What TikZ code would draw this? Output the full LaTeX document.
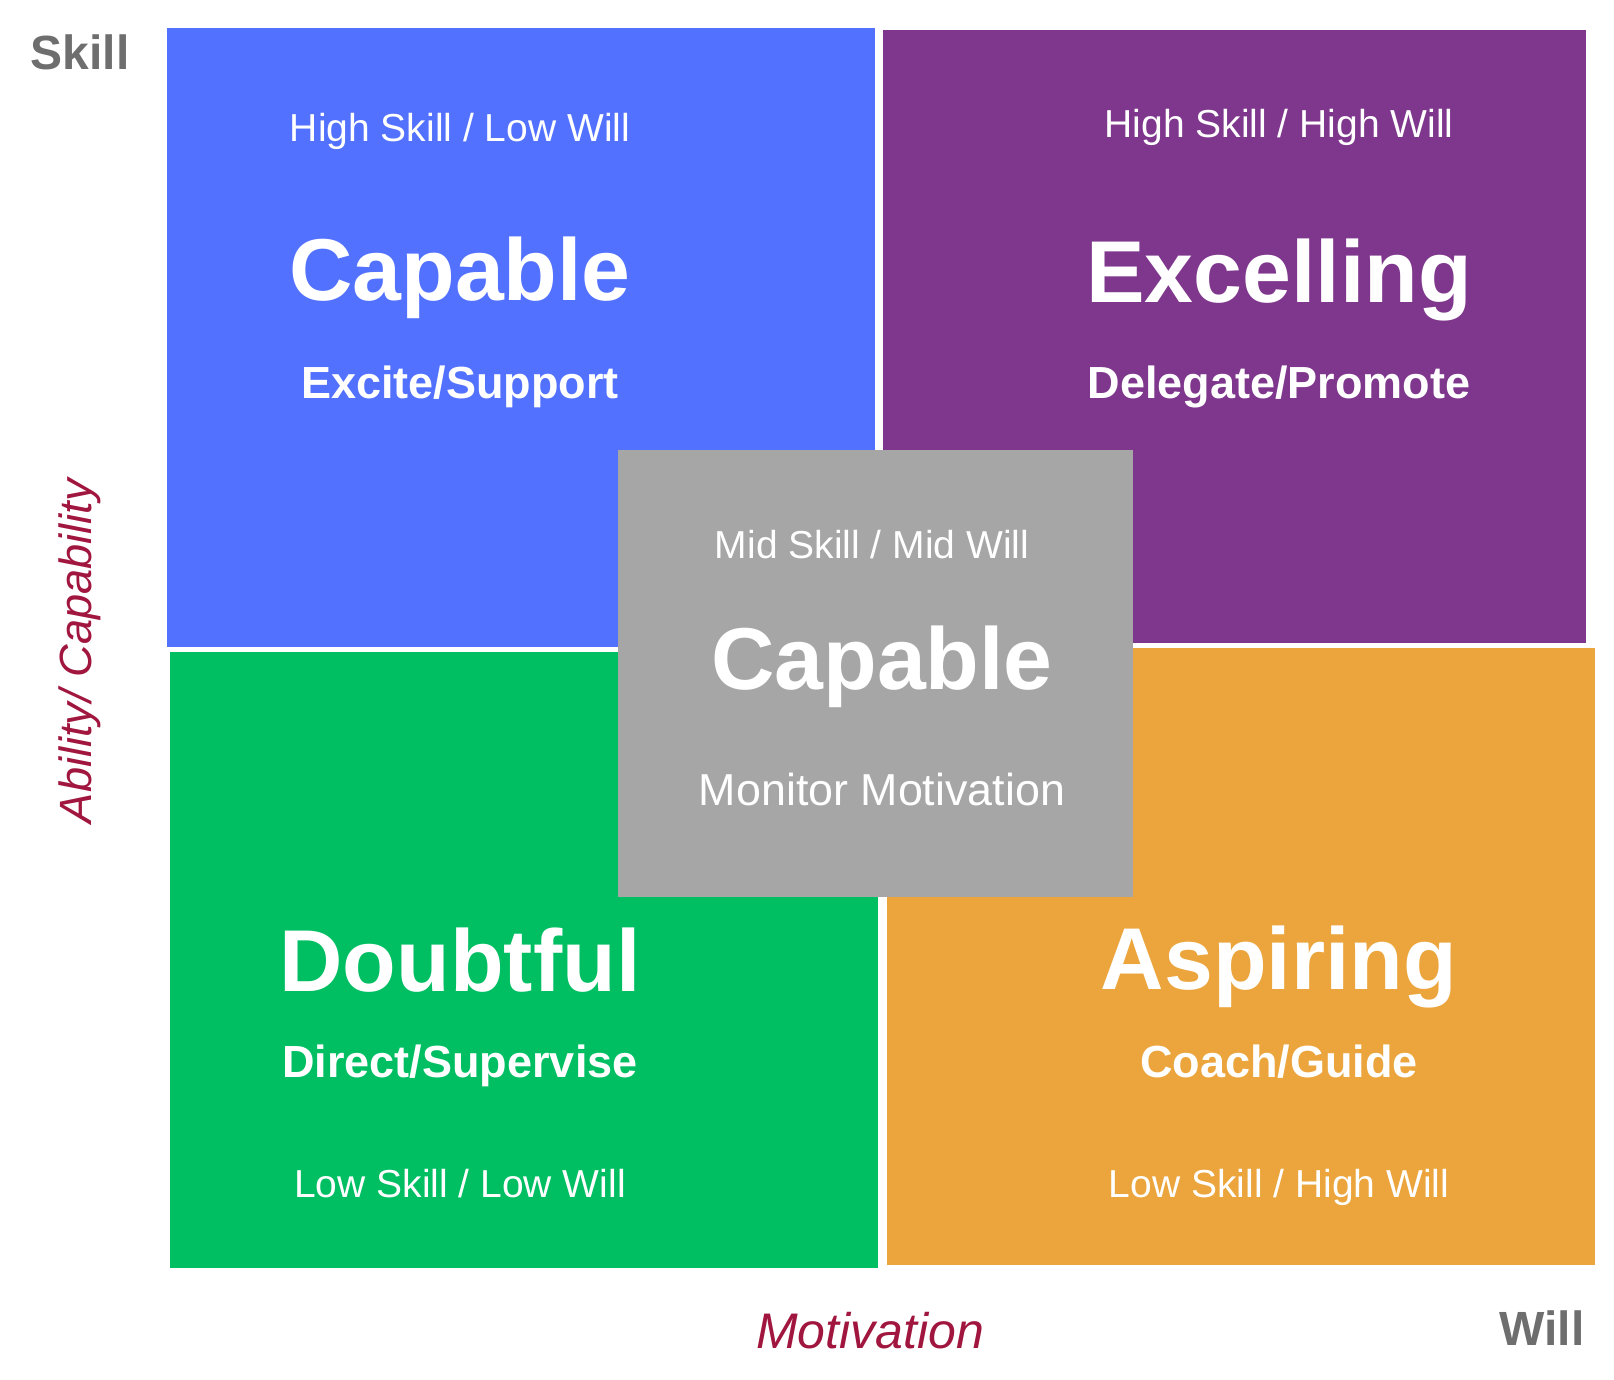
\documentclass[tikz,border=0pt]{standalone}
\usepackage{fontspec}
\setmainfont{Liberation Sans}
\definecolor{qblue}{RGB}{82,113,255}
\definecolor{qpurple}{RGB}{126,55,140}
\definecolor{qgreen}{RGB}{0,191,99}
\definecolor{qorange}{RGB}{235,165,60}
\definecolor{qgray}{RGB}{166,166,166}
\definecolor{axisgray}{RGB}{110,110,110}
\definecolor{axisred}{RGB}{160,22,62}
\newcommand{\fs}[1]{\fontsize{#1}{#1}\selectfont}
\begin{document}
\begin{tikzpicture}[x=0.5pt,y=-0.5pt,
  every node/.style={inner sep=0pt, text=white},
  tag/.style={font=\fs{19.5pt}},
  title/.style={font=\bfseries\fs{43.9pt}},
  action/.style={font=\bfseries\fs{22.5pt}},
  corner/.style={font=\bfseries\fs{24pt}, text=axisgray},
  axis/.style={font=\itshape\fs{#1}, text=axisred}]
\useasboundingbox (0,0) rectangle (1614,1380);
\fill[white] (0,0) rectangle (1614,1380);
% quadrants
\fill[qblue]   (167,28)  rectangle (875,647);
\fill[qpurple] (883,30)  rectangle (1586,643);
\fill[qgreen]  (170,652) rectangle (878,1268);
\fill[qorange] (887,648) rectangle (1595,1265);
\fill[qgray]   (618,450) rectangle (1133,897);
% top left
\node[tag]    (hl)  at (460,131) {High Skill / Low Will};
\node[title]  (cap) at (460,278) {Capable};
\node[action] (es)  at (460,387) {Excite/Support};
% top right
\node[tag]    (hh)  at (1279,127) {High Skill / High Will};
\node[title]  (exc) at (1279,280) {Excelling};
\node[action] (dp)  at (1279,387) {Delegate/Promote};
% centre
\node[tag]    (mm)  at (872,545) {Mid Skill / Mid Will};
\node[title]  (cap2) at (882,667) {Capable};
\node[font=\fs{22.4pt}] (mon) at (882,789) {Monitor Motivation};
% bottom left
\node[title]  (dou) at (460,960) {Doubtful};
\node[action] (ds)  at (460,1066) {Direct/Supervise};
\node[tag]    (ll)  at (460,1184) {Low Skill / Low Will};
% bottom right
\node[title]  (asp) at (1279,967) {Aspiring};
\node[action] (cg)  at (1279,1062) {Coach/Guide};
\node[tag]    (lh)  at (1279,1187) {Low Skill / High Will};
% axes
\node[corner] (skill) at (80,52) {Skill};
\node[corner] (will)  at (1542,1328) {Will};
\node[axis=25pt] (mot) at (870,1331) {Motivation};
\node[axis=22.6pt, rotate=90] (abil) at (80,651) {Ability/ Capability};
\end{tikzpicture}
\end{document}
